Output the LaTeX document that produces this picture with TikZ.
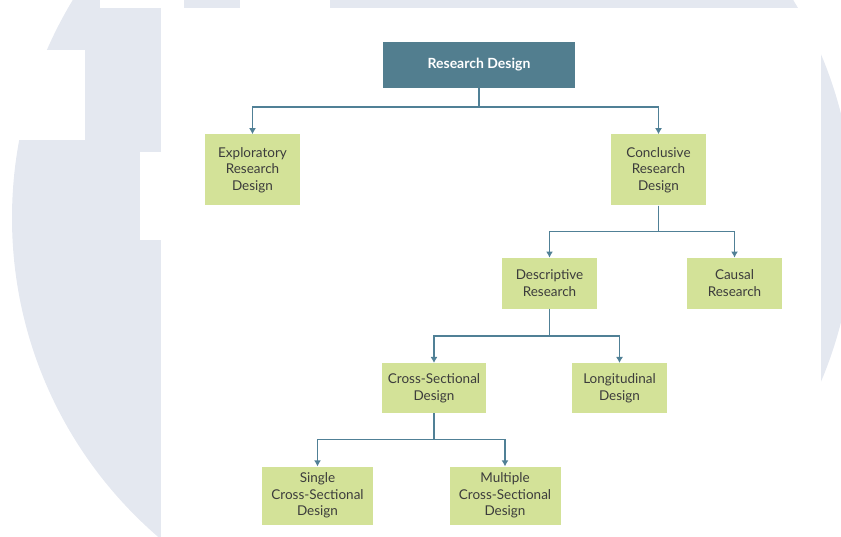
\documentclass[tikz,border=0pt]{standalone}
\usepackage{fontspec}
\setmainfont{Lato}
\usetikzlibrary{arrows.meta,positioning}
\definecolor{headblue}{RGB}{82,126,143}
\definecolor{leafgreen}{RGB}{211,226,152}
\definecolor{linkblue}{RGB}{80,128,150}
\definecolor{markgray}{RGB}{228,232,240}
\definecolor{textgray}{RGB}{60,60,60}

\begin{document}
\begin{tikzpicture}[
x=1pt, y=1pt,
box/.style={align=center, inner sep=0pt},
head/.style={box, fill=headblue, text=white, font=\fontsize{14}{16}\selectfont\bfseries, minimum width=192pt, minimum height=46pt},
leaf/.style={box, fill=leafgreen, text=textgray, font=\fontsize{13.5}{16.5}\selectfont, minimum width=95pt, minimum height=51pt},
tall/.style={leaf, minimum height=71pt},
wide/.style={leaf, minimum width=111pt, minimum height=58pt},
arrow/.style={-{Latex[length=6pt,width=7pt]}, line width=1.8pt, draw=linkblue}
]
% faded backdrop
\clip (0,0) rectangle (841,-537);
\fill[markgray] (433,-218) circle (421);
\fill[white] (161,-8) rectangle (821,-537);
\fill[white] (100,0) rectangle (184,-8);
\fill[white] (240,0) rectangle (330,-8);
\fill[white] (0,-50) rectangle (85,-140);
\fill[white] (140,-152) rectangle (161,-240);

\node[head] (top) at (479,-65) {Research Design};
\node[tall, below=46pt of top, xshift=-226.5pt] (explor) {Exploratory\\Research\\Design};
\node[tall, below=46pt of top, xshift=179.5pt] (concl) {Conclusive\\Research\\Design};
\node[leaf, below=52pt of concl, xshift=-109pt] (descr) {Descriptive\\Research};
\node[leaf, below=52pt of concl, xshift=76pt] (causal) {Causal\\Research};
\node[leaf, minimum width=104pt, minimum height=50pt, below=54pt of descr, xshift=-115.5pt] (cross) {Cross-Sectional\\Design};
\node[leaf, minimum height=50pt, below=54pt of descr, xshift=70pt] (longi) {Longitudinal\\Design};
\node[wide, below=53pt of cross, xshift=-116.5pt] (single) {Single\\Cross-Sectional\\Design};
\node[wide, below=53pt of cross, xshift=71pt] (multi) {Multiple\\Cross-Sectional\\Design};

\draw[arrow] (top.south) -- ++(0,-19) -| (explor.north);
\draw[arrow] (top.south) -- ++(0,-19) -| (concl.north);
\draw[arrow] (concl.south) -- ++(0,-26) -| (descr.north);
\draw[arrow] (concl.south) -- ++(0,-26) -| (causal.north);
\draw[arrow] (descr.south) -- ++(0,-27) -| (cross.north);
\draw[arrow] (descr.south) -- ++(0,-27) -| (longi.north);
\draw[arrow] (cross.south) -- ++(0,-26) -| (single.north);
\draw[arrow] (cross.south) -- ++(0,-26) -| (multi.north);
\end{tikzpicture}
\end{document}
